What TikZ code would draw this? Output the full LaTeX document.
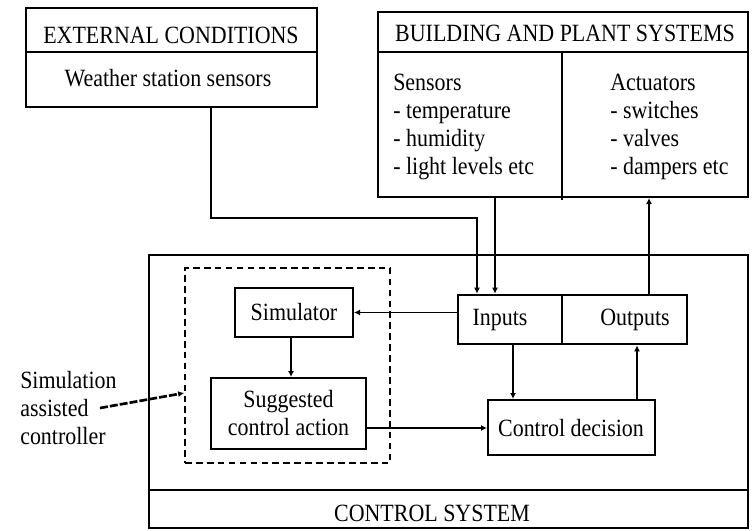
\documentclass[tikz,border=0pt]{standalone}
\usepackage{fontspec}
\setmainfont[FakeStretch=0.885]{Liberation Serif}
\usetikzlibrary{fit,arrows.meta}
\tikzset{
  frame/.style={draw, line width=1.5pt, inner sep=0pt},
  thinframe/.style={draw, line width=1.1pt, inner sep=0pt},
  dashframe/.style={draw, line width=1.3pt, dash pattern=on 5pt off 3.2pt, inner sep=0pt},
  txt/.style={inner sep=0pt, font=\fontsize{18.6}{21}\selectfont},
  tip/.style={-{Latex[length=4.5pt,width=4.5pt]}},
  heavy/.style={line width=2.1pt, tip},
  light/.style={line width=0.9pt, tip},
}
\begin{document}
\begin{tikzpicture}[x=0.75pt,y=-0.75pt]
\useasboundingbox (0,0) rectangle (756,531);
% boxes
\node[frame, fit={(26,8)(317,107)}] (ext) {};
\draw[line width=1.2pt] (26,52) -- (317,52);
\node[txt] (extt) at (171,35) {EXTERNAL CONDITIONS};
\node[txt] (wss) at (168,78) {Weather station sensors};

\node[frame, fit={(378,12)(748,197)}] (bps) {};
\draw[line width=1.2pt] (378,52) -- (748,52);
\draw[line width=2.2pt] (562,52) -- (562,200);
\node[txt] (bpst) at (565,33) {BUILDING AND PLANT SYSTEMS};
\node[txt, align=left, anchor=north west] (sens) at (393,74) {Sensors\\- temperature\\- humidity\\- light levels etc};
\node[txt, align=left, anchor=north west] (act) at (610,74) {Actuators\\- switches\\- valves\\- dampers etc};

\node[thinframe, fit={(149,255)(748,528)}] (cs) {};
\draw[line width=1.1pt] (149,490) -- (748,490);
\node[txt] (cst) at (432,513) {CONTROL SYSTEM};

\node[dashframe, fit={(185,268)(390,463)}] (sac) {};
\node[frame, fit={(235,288)(353,337)}] (sim) {};
\node[txt] at (sim.center) {Simulator};
\node[frame, fit={(211,378)(366,449)}] (sug) {};
\node[txt, align=center] at (sug.center) {Suggested\\control action};
\node[frame, fit={(488,400)(655,455)}] (cd) {};
\node[txt] at (571,428) {Control decision};

\node[frame, line width=2pt, fit={(458,295)(562,344)}] (inp) {};
\node[frame, line width=2pt, fit={(562,295)(687,344)}] (out) {};
\node[txt] at (500,320) {Inputs};
\node[txt] at (635,320) {Outputs};

\node[txt, align=left, anchor=west] (lab) at (20,408) {Simulation\\assisted\\controller};

% connector guide coordinates
\coordinate (wx) at (211,0);
\coordinate (wy) at (0,218);
\coordinate (ix) at (477,0);
\coordinate (sx) at (495,0);
\coordinate (cx) at (513,0);
\coordinate (ox) at (637,0);
\coordinate (ax) at (649,0);
\coordinate (gx) at (291,0);
\coordinate (gy) at (0,428);
\coordinate (ly) at (0,393);
\coordinate (ls) at (100,408);

% connectors
\draw[heavy] (ext.south -| wx) -- (wx |- wy) -- (ix |- wy) -- (inp.north -| ix);
\draw[light] (bps.south -| sx) -- (inp.north -| sx);
\draw[heavy] (out.north -| ax) -- (bps.south -| ax);
\draw[light] (inp.west |- sim.east) -- (sim.east);
\draw[heavy] (sim.south -| gx) -- (sug.north -| gx);
\draw[heavy] (sug.east |- gy) -- (cd.west |- gy);
\draw[heavy] (inp.south -| cx) -- (cd.north -| cx);
\draw[heavy] (cd.north -| ox) -- (out.south -| ox);
\draw[line width=2pt, dash pattern=on 6pt off 1.5pt, tip] (ls) -- (sac.west |- ly);
\end{tikzpicture}
\end{document}
